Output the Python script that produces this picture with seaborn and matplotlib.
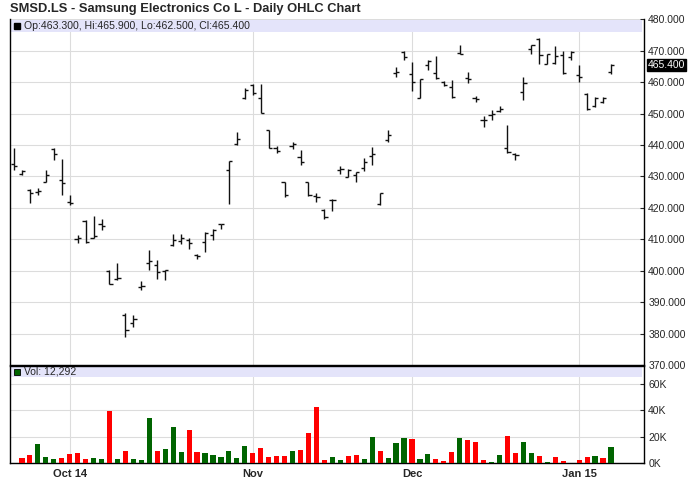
import matplotlib
matplotlib.use("Agg")
import matplotlib.pyplot as plt
import matplotlib.transforms as mtransforms
from matplotlib.patches import Rectangle
import numpy as np
import pandas as pd
import seaborn as sns

# --- data -------------------------------------------------------------------
title = "SMSD.LS - Samsung Electronics Co L - Daily OHLC Chart"
uk_holidays = ["2014-12-25", "2014-12-26", "2015-01-01"]
dates = pd.bdate_range("2014-09-22", "2015-01-08", freq="C", holidays=uk_holidays)

opens = [433.8, 430.9, 425.6, 425.0, 428.3, 438.6, 429.0, 422.0, 410.0, 415.9,
         410.5, 415.0, 400.0, 397.3, 386.0, 383.5, 394.8, 402.4, 401.8, 400.0,
         408.1, 409.5, 409.7, 405.0, 409.2, 411.3, 414.8, 432.0, 440.3, 454.8,
         459.0, 454.8, 444.9, 439.2, 428.2, 439.6, 436.2, 428.2, 423.7, 419.3,
         422.5, 432.0, 429.9, 430.4, 432.8, 436.5, 421.2, 441.5, 463.0, 469.6,
         462.7, 454.8, 465.4, 462.9, 460.1, 458.5, 469.3, 461.3, 454.8, 447.9,
         449.6, 450.8, 439.2, 437.1, 456.9, 470.4, 473.8, 465.9, 466.0, 468.6,
         468.0, 462.2, 456.2, 452.3, 453.7, 463.3]
highs = [438.9, 432.2, 425.9, 426.2, 432.0, 438.9, 435.7, 424.0, 411.3, 416.1,
         417.4, 416.6, 400.2, 402.3, 386.5, 386.0, 396.6, 406.6, 403.4, 400.2,
         411.6, 411.6, 410.3, 405.4, 412.4, 413.4, 415.0, 434.9, 444.0, 458.0,
         459.3, 459.3, 444.9, 439.6, 428.3, 441.0, 438.3, 428.3, 424.8, 419.5,
         422.7, 433.3, 432.5, 431.5, 436.0, 439.4, 424.8, 444.9, 464.8, 469.9,
         466.4, 461.1, 467.2, 468.2, 460.4, 460.6, 471.7, 463.2, 455.5, 449.2,
         451.1, 452.3, 446.3, 437.5, 461.7, 471.7, 474.0, 468.9, 471.4, 469.9,
         469.9, 465.4, 456.4, 455.3, 455.3, 465.9]
lows = [432.0, 430.4, 421.6, 424.0, 428.3, 435.2, 424.0, 420.9, 408.7, 408.7,
        410.3, 413.1, 395.7, 397.0, 379.0, 382.0, 393.8, 400.2, 397.5, 397.0,
        407.8, 408.5, 406.8, 403.8, 406.0, 409.7, 413.4, 421.2, 440.0, 454.5,
        455.8, 450.2, 438.9, 437.5, 423.3, 438.6, 433.6, 423.7, 421.9, 416.6,
        419.0, 430.9, 429.7, 428.3, 431.8, 433.6, 420.9, 441.0, 461.7, 467.2,
        457.2, 454.8, 464.0, 461.1, 458.7, 455.1, 468.9, 459.7, 453.7, 445.8,
        448.1, 450.5, 437.5, 435.2, 454.2, 469.1, 465.9, 465.7, 465.9, 462.7,
        467.2, 460.1, 451.1, 452.1, 453.4, 462.5]
closes = [433.4, 431.6, 424.6, 425.5, 430.4, 437.1, 427.8, 421.5, 410.4, 409.0,
          411.0, 414.2, 395.8, 397.6, 381.0, 384.5, 395.2, 403.0, 399.7, 400.2,
          409.9, 410.3, 408.7, 404.6, 412.0, 413.1, 414.9, 434.9, 441.8, 457.4,
          456.4, 450.2, 439.2, 438.1, 424.0, 440.3, 434.6, 424.0, 423.5, 417.1,
          422.6, 432.5, 432.0, 431.3, 434.6, 437.0, 424.6, 443.1, 463.3, 468.0,
          460.1, 461.1, 466.7, 461.3, 459.0, 455.3, 469.0, 461.0, 454.5, 448.1,
          449.9, 451.3, 437.8, 436.9, 459.7, 471.7, 468.5, 468.8, 468.3, 462.9,
          469.6, 461.5, 451.3, 455.1, 454.8, 465.4]
volumes = [0, 3800, 5900, 14400, 4600, 3100, 3800, 6700, 7400, 3100,
           3800, 3100, 39200, 3100, 9000, 3100, 2300, 34100, 9000, 10500,
           27400, 8200, 25100, 8200, 7400, 5900, 4400, 9000, 3800, 12800,
           7400, 11300, 4400, 5100, 5100, 9000, 9700, 22800, 42300, 2300,
           4400, 2300, 5100, 5900, 2800, 19700, 9000, 3800, 15100, 19000,
           18200, 3100, 6700, 3100, 1500, 8200, 19000, 17400, 15900, 2300,
           800, 5900, 20200, 7400, 15900, 7400, 5100, 800, 4400, 1500,
           0, 2300, 4400, 5100, 3800, 12292]

month_labels = ["Oct 14", "Nov", "Dec", "Jan 15"]
price_ticks = [370, 380, 390, 400, 410, 420, 430, 440, 450, 460, 470, 480]
vol_ticks = [0, 20000, 40000, 60000]
vol_tick_labels = ["0K", "20K", "40K", "60K"]

df = pd.DataFrame({"date": dates, "open": opens, "high": highs,
                   "low": lows, "close": closes, "volume": volumes})
df["pos"] = np.arange(len(df))
df["dir"] = np.where(df["close"].diff() < 0, "down", "up")
month_pos = df.groupby(df["date"].dt.to_period("M"))["pos"].first().tolist()[1:]

# --- style ------------------------------------------------------------------
sns.set_style("white")
plt.rcParams["font.family"] = ["Liberation Sans", "DejaVu Sans"]

W, H = 688, 503
fig = plt.figure(figsize=(W / 100, H / 100), dpi=100)
left, right = 10, 644
axp = fig.add_axes([left / W, 1 - 365 / H, (right - left) / W, (365 - 19.3) / H])
axv = fig.add_axes([left / W, 1 - 463 / H, (right - left) / W, (463 - 365.5) / H],
                   sharex=axp)

grid_kw = dict(color="#dcdcdc", linewidth=0.8)
bar_color = "#111111"
tick_len = 0.4

# --- price panel (OHLC) -------------------------------------------------------
axp.vlines(df["pos"], df["low"], df["high"], color=bar_color, lw=1.0, zorder=3)
axp.hlines(df["open"], df["pos"] - tick_len, df["pos"], color=bar_color, lw=1.0, zorder=3)
axp.hlines(df["close"], df["pos"], df["pos"] + tick_len, color=bar_color, lw=1.0, zorder=3)

axp.set_ylim(price_ticks[0], price_ticks[-1])
axp.set_yticks(price_ticks)
axp.set_yticklabels([f"{v:.3f}" for v in price_ticks])
axp.yaxis.tick_right()
axp.tick_params(axis="y", direction="in", length=3, pad=3, labelsize=7.5, width=0.8)
axp.tick_params(axis="x", length=0, labelbottom=False)
axp.grid(True, **grid_kw)
axp.set_axisbelow(True)
for side in ["left", "right", "bottom"]:
    axp.spines[side].set_color("black")
    axp.spines[side].set_linewidth(1.0)
axp.spines["top"].set_visible(False)

# legend band
axp.add_patch(Rectangle((0.001, 1 - 13 / 346), 0.996, 12.5 / 346, transform=axp.transAxes,
                        facecolor="#e4e4fa", edgecolor="none", zorder=2))
band_y = 1 - 7 / 346
axp.plot([7 / 634], [band_y], marker="s", ms=5, color="black",
         transform=axp.transAxes, clip_on=False, zorder=4)
last = df.iloc[-1]
axp.text(14 / 634, band_y,
         f"Op:{last['open']:.3f}, Hi:{last['high']:.3f}, Lo:{last['low']:.3f}, Cl:{last['close']:.3f}",
         transform=axp.transAxes, va="center", ha="left", fontsize=7.6, zorder=4)

# last price marker on axis
trans = mtransforms.offset_copy(mtransforms.blended_transform_factory(axp.transAxes, axp.transData),
                                fig=fig, x=4, y=0, units="dots")
axp.text(1.0, last["close"], f"{last['close']:.3f}", transform=trans, ha="left", va="center",
         fontsize=7.5, color="white",
         bbox=dict(boxstyle="square,pad=0.08", facecolor="black", edgecolor="black"))

# --- volume panel -----------------------------------------------------------
sns.barplot(data=df, x="pos", y="volume", hue="dir",
            palette={"up": "#006400", "down": "#ff0000"},
            native_scale=True, dodge=False, width=0.65, errorbar=None,
            saturation=1, linewidth=0, legend=False, ax=axv, zorder=3)
axv.set_xlabel("")
axv.set_ylabel("")
axv.set_ylim(-230, 74400)
axv.set_yticks(vol_ticks)
axv.set_yticklabels(vol_tick_labels)
axv.yaxis.tick_right()
axv.tick_params(axis="y", direction="in", length=3, pad=3, labelsize=7.5, width=0.8)
axv.grid(True, **grid_kw)
axv.set_axisbelow(True)
for side in ["left", "right", "bottom", "top"]:
    axv.spines[side].set_color("black")
    axv.spines[side].set_linewidth(1.0)

axv.add_patch(Rectangle((0.001, 1 - 11.5 / 97.5), 0.996, 10.5 / 97.5, transform=axv.transAxes,
                        facecolor="#e4e4fa", edgecolor="none", zorder=2))
vband_y = 1 - 6.5 / 97.5
axv.plot([7 / 634], [vband_y], marker="s", ms=5, color="#006400", mec="black", mew=0.6,
         transform=axv.transAxes, clip_on=False, zorder=4)
axv.text(14 / 634, vband_y, f"Vol: {df['volume'].iloc[-1]:,}", transform=axv.transAxes,
         va="center", ha="left", fontsize=7.5, zorder=4)

axv.set_xticks(month_pos)
axv.set_xticklabels(month_labels, fontweight="bold", fontsize=8)
axv.tick_params(axis="x", direction="in", length=3, pad=4, width=0.8)
axv.set_xlim(-0.5, 79.15)

fig.text(left / W, 1 - 9 / H, title, ha="left", va="center", fontsize=9.3, fontweight="bold")

fig.savefig("out.png", dpi=100)
plt.close(fig)
